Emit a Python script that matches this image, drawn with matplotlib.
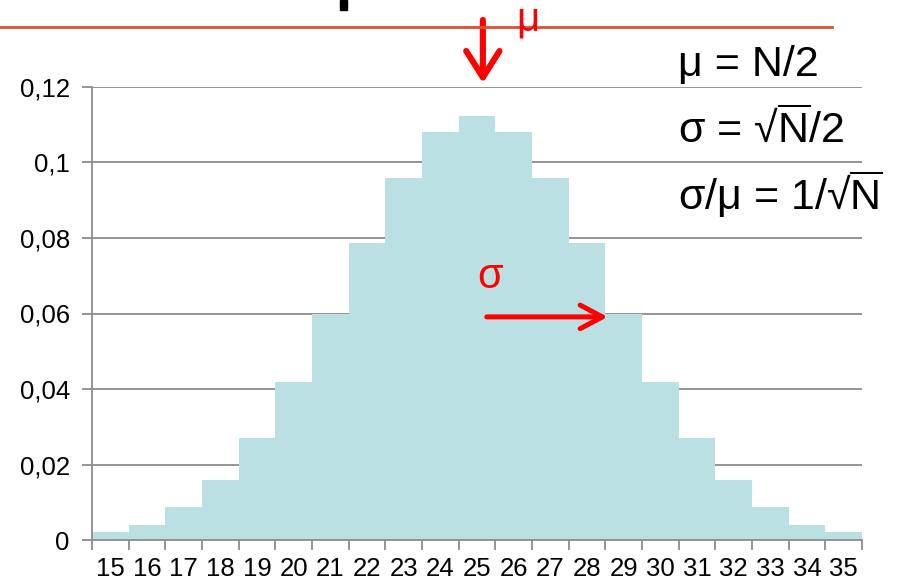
import matplotlib.pyplot as plt
from matplotlib.ticker import FuncFormatter, FixedLocator

plt.rcParams['font.family'] = ['Liberation Sans', 'DejaVu Sans']
plt.rcParams['mathtext.fontset'] = 'custom'
plt.rcParams['mathtext.rm'] = 'Liberation Sans'
plt.rcParams['mathtext.sf'] = 'Liberation Sans'

# binomial distribution, N = 50
counts = [15, 16, 17, 18, 19, 20, 21, 22, 23, 24, 25,
          26, 27, 28, 29, 30, 31, 32, 33, 34, 35]
probs = [0.0020, 0.0040, 0.0087, 0.0160, 0.0270, 0.0419, 0.0598, 0.0788, 0.0960, 0.1080, 0.1123,
         0.1080, 0.0960, 0.0788, 0.0598, 0.0419, 0.0270, 0.0160, 0.0087, 0.0040, 0.0020]
mu = 25
sigma = 3.54

fig = plt.figure(figsize=(9.16, 5.87), dpi=100)
ax = fig.add_axes([92 / 916, 47 / 587, 770 / 916, 453 / 587])

ax.bar(counts, probs, width=1.0, color='#bae0e3', zorder=2)

ax.set_xlim(14.5, 35.5)
ax.set_ylim(0, 0.12)
ax.set_yticks([0, 0.02, 0.04, 0.06, 0.08, 0.10, 0.12])
ax.yaxis.set_major_formatter(FuncFormatter(lambda v, p: f'{v:g}'.replace('.', ',')))
ax.grid(axis='y', color='#8c8c8c', linewidth=1.3, zorder=0)
ax.set_axisbelow(True)

# tick marks at bar edges, labels at bar centres
ax.xaxis.set_major_locator(FixedLocator([c - 0.5 for c in counts] + [counts[-1] + 0.5]))
ax.xaxis.set_major_formatter(FuncFormatter(lambda v, p: ''))
ax.xaxis.set_minor_locator(FixedLocator(counts))
ax.xaxis.set_minor_formatter(FuncFormatter(lambda v, p: f'{v:.0f}'))
ax.tick_params(axis='x', which='major', length=7, width=1.3, color='#8c8c8c')
ax.tick_params(axis='x', which='minor', length=0, labelsize=18.5, pad=12)
ax.tick_params(axis='y', length=7, width=1.3, color='#8c8c8c', labelsize=18.5, pad=9)

for s in ['top', 'right']:
    ax.spines[s].set_visible(False)
for s in ['left', 'bottom']:
    ax.spines[s].set_color('#8c8c8c')
    ax.spines[s].set_linewidth(1.3)

# arrows
ax.annotate('', xy=(mu + 0.16, 0.1203), xytext=(mu + 0.16, 0.1385),
            arrowprops=dict(arrowstyle='->,head_width=12,head_length=19', mutation_scale=1,
                            color='red', lw=4.4),
            annotation_clip=False)
ax.annotate('', xy=(mu + sigma + 0.1, 0.0591), xytext=(mu + 0.19, 0.0591),
            arrowprops=dict(arrowstyle='->,head_width=8.5,head_length=16', mutation_scale=1,
                            color='red', lw=3.6))

# header line and cut-off title
fig.add_artist(plt.Line2D([0, 832 / 916], [1 - 27 / 587, 1 - 27 / 587], color='#e05030', lw=2))
fig.add_artist(plt.Rectangle((340 / 916, 1 - 10 / 587), 7 / 916, 10 / 587, color='black'))

fig.text(516 / 916, 1 - 30 / 587, 'μ', color='red', fontsize=29, va='baseline')
fig.text(477 / 916, 1 - 288 / 587, 'σ', color='red', fontsize=30, va='baseline')

fs = 31
fig.text(678 / 916, 1 - 76 / 587, 'μ = N/2', fontsize=fs, va='baseline')
fig.text(678 / 916, 1 - 142 / 587, r'σ = √$\overline{\mathrm{N}}$/2', fontsize=fs, va='baseline')
fig.text(678 / 916, 1 - 210 / 587, r'σ/μ = 1/√$\overline{\mathrm{N}}$', fontsize=fs, va='baseline')

fig.savefig('out.png', dpi=100)
